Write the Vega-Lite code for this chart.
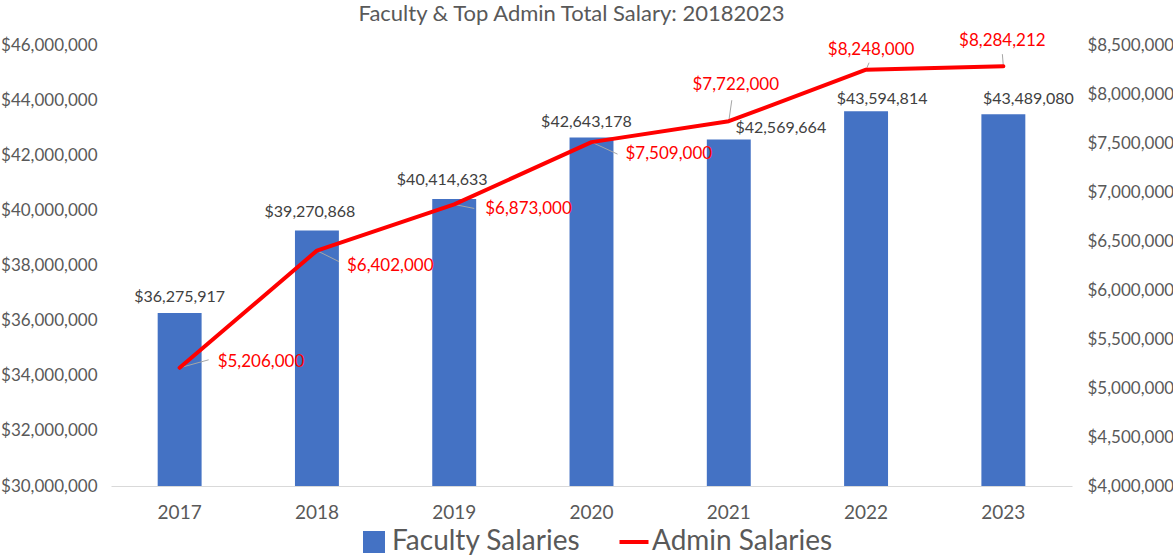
{
  "$schema": "https://vega.github.io/schema/vega-lite/v6.json",
  "width": 961,
  "height": 441,
  "autosize": {"type": "none"},
  "padding": {"left": 111, "top": 45, "right": 101, "bottom": 70},
  "background": "white",
  "config": {
    "font": "Lato",
    "view": {"stroke": null},
    "axis": {"labelFont": "Lato", "labelColor": "#595959", "title": null, "ticks": false, "grid": false}
  },
  "title": {
    "text": "Faculty & Top Admin Total Salary: 20182023",
    "fontSize": 22,
    "font": "Lato",
    "fontWeight": "normal",
    "color": "#595959",
    "anchor": "middle",
    "dx": -20,
    "offset": 6
  },
  "data": {
    "values": [
      {"year": "2017", "faculty": 36275917, "admin": 5206000},
      {"year": "2018", "faculty": 39270868, "admin": 6402000},
      {"year": "2019", "faculty": 40414633, "admin": 6873000},
      {"year": "2020", "faculty": 42643178, "admin": 7509000},
      {"year": "2021", "faculty": 42569664, "admin": 7722000},
      {"year": "2022", "faculty": 43594814, "admin": 8248000},
      {"year": "2023", "faculty": 43489080, "admin": 8284212}
    ]
  },
  "encoding": {
    "x": {
      "field": "year",
      "type": "nominal",
      "sort": null,
      "scale": {"paddingInner": 0.68, "paddingOuter": 0.34},
      "axis": {"labelAngle": 0, "labelFontSize": 19, "labelPadding": 17, "domain": true, "domainColor": "#D9D9D9", "domainWidth": 1}
    }
  },
  "layer": [
    {
      "encoding": {
        "y": {
          "field": "faculty",
          "type": "quantitative",
          "scale": {"domain": [30000000, 46000000], "nice": false, "zero": false},
          "axis": {"orient": "left", "values": [30000000, 32000000, 34000000, 36000000, 38000000, 40000000, 42000000, 44000000, 46000000], "format": "$,.0f", "labelFontSize": 17, "labelPadding": 14, "domain": false}
        }
      },
      "layer": [
        {
          "mark": {"type": "bar", "clip": true},
          "encoding": {
            "color": {
              "datum": "Faculty Salaries",
              "type": "nominal",
              "scale": {"domain": ["Faculty Salaries", "Admin Salaries"], "range": ["#4472C4", "#FF0000"]},
              "legend": {
                "title": null,
                "orient": "none",
                "legendX": 249,
                "legendY": 483,
                "direction": "horizontal",
                "labelFontSize": 28,
                "labelFont": "Lato",
                "labelColor": "#595959",
                "labelLimit": 0,
                "symbolSize": 484,
                "labelOffset": 4,
                "columnPadding": 30,
                "padding": 0,
                "encoding": {
                  "symbols": {
                    "shape": {"value": {"expr": "datum.value === 'Admin Salaries' ? 'stroke' : 'square'"}},
                    "size": {"value": {"expr": "datum.value === 'Admin Salaries' ? 841 : 484"}},
                    "strokeWidth": {"value": {"expr": "datum.value === 'Admin Salaries' ? 4 : 0"}},
                    "fill": {"value": {"expr": "datum.value === 'Admin Salaries' ? 'transparent' : '#4472C4'"}},
                    "stroke": {"value": {"expr": "datum.value === 'Admin Salaries' ? '#FF0000' : 'transparent'"}}
                  }
                }
              }
            }
          }
        },
        {"transform": [{"filter": "datum.year == '2017'"}], "mark": {"type": "text", "fontSize": 16, "color": "#404040", "dx": 0, "dy": -16}, "encoding": {"text": {"field": "faculty", "type": "quantitative", "format": "$,.0f"}}},
        {"transform": [{"filter": "datum.year == '2018'"}], "mark": {"type": "text", "fontSize": 16, "color": "#404040", "dx": -7, "dy": -18}, "encoding": {"text": {"field": "faculty", "type": "quantitative", "format": "$,.0f"}}},
        {"transform": [{"filter": "datum.year == '2019'"}], "mark": {"type": "text", "fontSize": 16, "color": "#404040", "dx": -12, "dy": -19}, "encoding": {"text": {"field": "faculty", "type": "quantitative", "format": "$,.0f"}}},
        {"transform": [{"filter": "datum.year == '2020'"}], "mark": {"type": "text", "fontSize": 16, "color": "#404040", "dx": -5, "dy": -16}, "encoding": {"text": {"field": "faculty", "type": "quantitative", "format": "$,.0f"}}},
        {"transform": [{"filter": "datum.year == '2021'"}], "mark": {"type": "text", "fontSize": 16, "color": "#404040", "dx": 52, "dy": -12}, "encoding": {"text": {"field": "faculty", "type": "quantitative", "format": "$,.0f"}}},
        {"transform": [{"filter": "datum.year == '2022'"}], "mark": {"type": "text", "fontSize": 16, "color": "#404040", "dx": 16, "dy": -12}, "encoding": {"text": {"field": "faculty", "type": "quantitative", "format": "$,.0f"}}},
        {"transform": [{"filter": "datum.year == '2023'"}], "mark": {"type": "text", "fontSize": 16, "color": "#404040", "dx": 25, "dy": -15}, "encoding": {"text": {"field": "faculty", "type": "quantitative", "format": "$,.0f"}}}
      ]
    },
    {
      "encoding": {
        "y": {
          "field": "admin",
          "type": "quantitative",
          "scale": {"domain": [4000000, 8500000], "nice": false, "zero": false},
          "axis": {"orient": "right", "values": [4000000, 4500000, 5000000, 5500000, 6000000, 6500000, 7000000, 7500000, 8000000, 8500000], "format": "$,.0f", "labelFontSize": 17, "labelPadding": 15, "domain": false}
        }
      },
      "layer": [
        {"transform": [{"filter": "datum.year == '2017'"}], "mark": {"type": "rule", "color": "#A6A6A6", "strokeWidth": 1, "xOffset": 0, "yOffset": 0, "x2Offset": 29, "y2Offset": -8}, "encoding": {"x": {"field": "year", "type": "nominal", "sort": null, "bandPosition": 0.5}, "x2": {"field": "year", "bandPosition": 0.5}, "y2": {"field": "admin"}}},
        {"transform": [{"filter": "datum.year == '2018'"}], "mark": {"type": "rule", "color": "#A6A6A6", "strokeWidth": 1, "x2Offset": 22, "y2Offset": 11}, "encoding": {"x": {"field": "year", "type": "nominal", "sort": null, "bandPosition": 0.5}, "x2": {"field": "year", "bandPosition": 0.5}, "y2": {"field": "admin"}}},
        {"transform": [{"filter": "datum.year == '2019'"}], "mark": {"type": "rule", "color": "#A6A6A6", "strokeWidth": 1, "x2Offset": 20, "y2Offset": 4}, "encoding": {"x": {"field": "year", "type": "nominal", "sort": null, "bandPosition": 0.5}, "x2": {"field": "year", "bandPosition": 0.5}, "y2": {"field": "admin"}}},
        {"transform": [{"filter": "datum.year == '2020'"}], "mark": {"type": "rule", "color": "#A6A6A6", "strokeWidth": 1, "x2Offset": 26, "y2Offset": 12}, "encoding": {"x": {"field": "year", "type": "nominal", "sort": null, "bandPosition": 0.5}, "x2": {"field": "year", "bandPosition": 0.5}, "y2": {"field": "admin"}}},
        {"transform": [{"filter": "datum.year == '2021'"}], "mark": {"type": "rule", "color": "#A6A6A6", "strokeWidth": 1, "x2Offset": 3, "y2Offset": -21}, "encoding": {"x": {"field": "year", "type": "nominal", "sort": null, "bandPosition": 0.5}, "x2": {"field": "year", "bandPosition": 0.5}, "y2": {"field": "admin"}}},
        {"transform": [{"filter": "datum.year == '2022'"}], "mark": {"type": "rule", "color": "#A6A6A6", "strokeWidth": 1, "x2Offset": 3, "y2Offset": -7}, "encoding": {"x": {"field": "year", "type": "nominal", "sort": null, "bandPosition": 0.5}, "x2": {"field": "year", "bandPosition": 0.5}, "y2": {"field": "admin"}}},
        {"transform": [{"filter": "datum.year == '2023'"}], "mark": {"type": "rule", "color": "#A6A6A6", "strokeWidth": 1, "x2Offset": -1, "y2Offset": -12}, "encoding": {"x": {"field": "year", "type": "nominal", "sort": null, "bandPosition": 0.5}, "x2": {"field": "year", "bandPosition": 0.5}, "y2": {"field": "admin"}}},
        {
          "mark": {"type": "line", "strokeWidth": 4, "strokeCap": "round", "strokeJoin": "round"},
          "encoding": {"color": {"datum": "Admin Salaries", "type": "nominal"}}
        },
        {"transform": [{"filter": "datum.year == '2017'"}], "mark": {"type": "text", "fontSize": 17, "color": "#FF0000", "align": "left", "dx": 38, "dy": -6}, "encoding": {"text": {"field": "admin", "type": "quantitative", "format": "$,.0f"}}},
        {"transform": [{"filter": "datum.year == '2018'"}], "mark": {"type": "text", "fontSize": 17, "color": "#FF0000", "align": "left", "dx": 30, "dy": 15}, "encoding": {"text": {"field": "admin", "type": "quantitative", "format": "$,.0f"}}},
        {"transform": [{"filter": "datum.year == '2019'"}], "mark": {"type": "text", "fontSize": 17, "color": "#FF0000", "align": "left", "dx": 31, "dy": 5}, "encoding": {"text": {"field": "admin", "type": "quantitative", "format": "$,.0f"}}},
        {"transform": [{"filter": "datum.year == '2020'"}], "mark": {"type": "text", "fontSize": 17, "color": "#FF0000", "align": "left", "dx": 34, "dy": 12}, "encoding": {"text": {"field": "admin", "type": "quantitative", "format": "$,.0f"}}},
        {"transform": [{"filter": "datum.year == '2021'"}], "mark": {"type": "text", "fontSize": 17, "color": "#FF0000", "align": "center", "dx": 7, "dy": -36}, "encoding": {"text": {"field": "admin", "type": "quantitative", "format": "$,.0f"}}},
        {"transform": [{"filter": "datum.year == '2022'"}], "mark": {"type": "text", "fontSize": 17, "color": "#FF0000", "align": "center", "dx": 5, "dy": -20}, "encoding": {"text": {"field": "admin", "type": "quantitative", "format": "$,.0f"}}},
        {"transform": [{"filter": "datum.year == '2023'"}], "mark": {"type": "text", "fontSize": 17, "color": "#FF0000", "align": "center", "dx": -1, "dy": -25}, "encoding": {"text": {"field": "admin", "type": "quantitative", "format": "$,.0f"}}}
      ]
    }
  ],
  "resolve": {"scale": {"y": "independent"}}
}
